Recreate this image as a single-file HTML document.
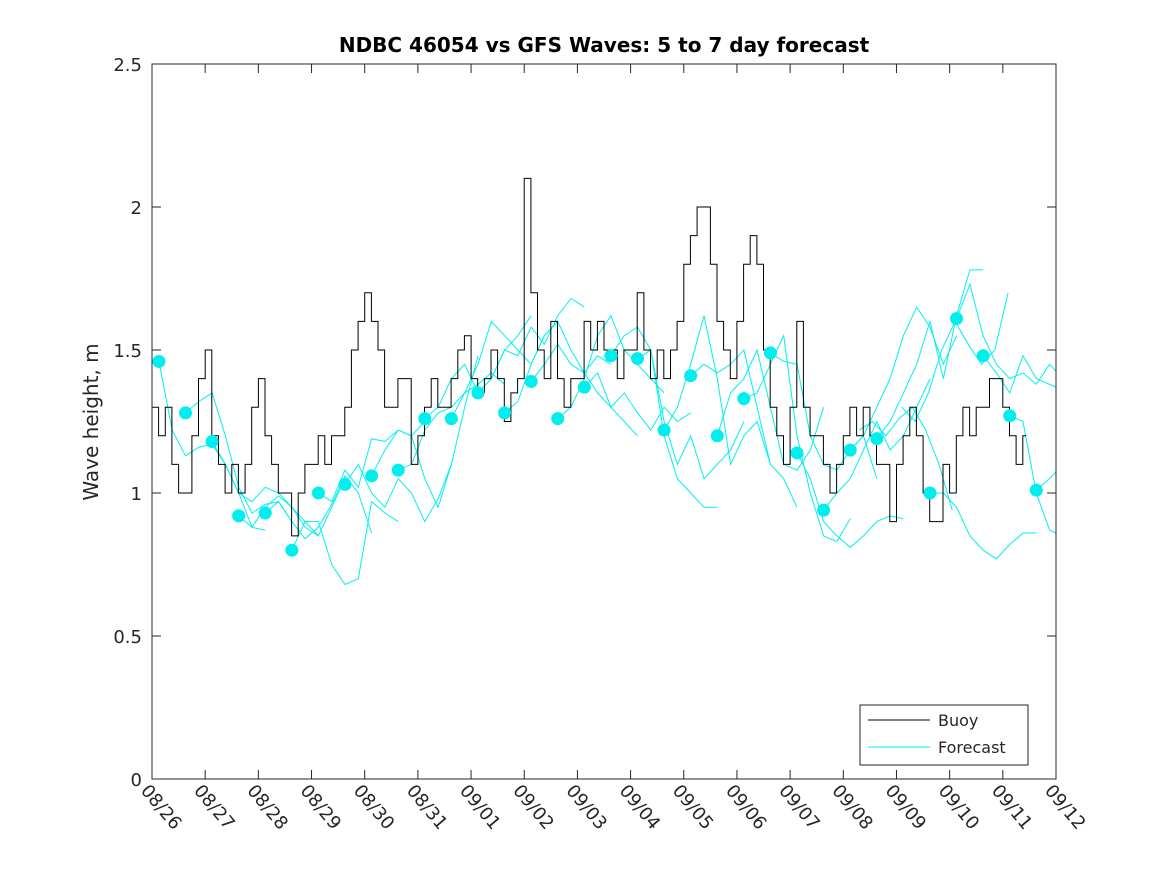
<!DOCTYPE html>
<html><head><meta charset="utf-8"><style>
body{margin:0;background:#fff}
svg{display:block;font-family:"DejaVu Sans","Liberation Sans",sans-serif}
</style></head><body>
<svg id="chart" width="1167" height="875">
<rect width="1167" height="875" fill="#fff"/>
<text x="604" y="52" text-anchor="middle" font-size="20" font-weight="bold" fill="#000">NDBC 46054 vs GFS Waves: 5 to 7 day forecast</text>
<text transform="translate(98,422) rotate(-90)" text-anchor="middle" font-size="20" fill="#262626">Wave height, m</text>
<g id="marks"></g>
<g id="axes"></g>
<g>
<rect x="860" y="705" width="168" height="60" fill="#fff" stroke="#262626" stroke-width="1"/>
<line x1="868" y1="720" x2="930" y2="720" stroke="#000" stroke-width="1"/>
<text x="938" y="726" font-size="16" fill="#262626">Buoy</text>
<line x1="868" y1="747" x2="930" y2="747" stroke="#00eeee" stroke-width="1"/>
<text x="938" y="753" font-size="16" fill="#262626">Forecast</text>
</g>
</svg>
<script>
const xTicks=["08/26","08/27","08/28","08/29","08/30","08/31","09/01","09/02","09/03","09/04","09/05","09/06","09/07","09/08","09/09","09/10","09/11","09/12"];
const yTicks=[0,0.5,1,1.5,2,2.5];
// buoy: 3-hourly values starting 08/26 00:00
const buoyStep=0.125;
const buoy=[1.3,1.2,1.3,1.1,1.0,1.0,1.2,1.4,
1.5,1.2,1.1,1.0,1.1,1.0,1.1,1.3,
1.4,1.2,1.1,1.0,1.0,0.85,1.0,1.1,
1.1,1.2,1.1,1.2,1.2,1.3,1.5,1.6,
1.7,1.6,1.5,1.3,1.3,1.4,1.4,1.1,
1.2,1.3,1.4,1.3,1.3,1.4,1.5,1.55,
1.4,1.35,1.4,1.5,1.4,1.25,1.35,1.4,
2.1,1.7,1.5,1.4,1.6,1.4,1.3,1.4,
1.4,1.6,1.5,1.6,1.5,1.5,1.4,1.5,
1.5,1.7,1.5,1.4,1.5,1.4,1.5,1.6,
1.8,1.9,2.0,2.0,1.8,1.6,1.5,1.4,
1.6,1.8,1.9,1.8,1.5,1.3,1.2,1.1,
1.3,1.6,1.3,1.2,1.2,1.1,1.0,1.1,
1.2,1.3,1.2,1.3,1.2,1.1,1.1,0.9,
1.1,1.2,1.3,1.2,1.0,0.9,0.9,1.1,
1.0,1.2,1.3,1.2,1.3,1.3,1.4,1.4,
1.3,1.2,1.1,1.2];
const dotTimes=[0.13,0.63,1.13,1.63,2.13,2.63,3.13,3.63,4.13,4.63,5.13,5.63,6.13,6.63,7.13,7.63,8.13,8.63,9.13,9.63,10.13,10.63,11.13,11.63,12.13,12.63,13.13,13.63,14.63,15.13,15.63,16.13,16.63];
const dotValues=[1.46,1.28,1.18,0.92,0.93,0.80,1.00,1.03,1.06,1.08,1.26,1.26,1.35,1.28,1.39,1.26,1.37,1.48,1.47,1.22,1.41,1.20,1.33,1.49,1.14,0.94,1.15,1.19,1.00,1.61,1.48,1.27,1.01];
// forecast segments: 6-hourly values starting at each dot time
const fcStep=0.25;
const forecasts=[
[1.46,1.22,1.13,1.16,1.17,1.1,1.0,0.88,0.87],
[1.28,1.32,1.35,1.2,1.02,0.93,0.96,0.97,0.9],
[1.18,1.1,1.0,0.97,1.02,1.0,0.95,0.88,0.85],
[0.92,0.88,0.95,0.99,0.95,0.9,0.85,0.95,1.05],
[0.93,0.97,0.9,0.84,0.88,0.96,1.06,1.0,0.86],
[0.80,0.9,0.9,0.75,0.68,0.7,0.97,0.93,0.9],
[1.00,0.97,1.08,1.02,1.19,1.18,1.22,1.2,1.25],
[1.03,1.1,1.0,0.95,1.05,1.0,0.9,0.98,1.1],
[1.06,1.15,1.22,1.2,1.05,0.95,1.1,1.3,1.48],
[1.08,1.1,1.22,1.28,1.3,1.35,1.38,1.42,1.38],
[1.26,1.3,1.4,1.45,1.35,1.4,1.5,1.55,1.62],
[1.26,1.35,1.45,1.6,1.55,1.5,1.45,1.55,1.6],
[1.35,1.4,1.5,1.48,1.58,1.52,1.62,1.68,1.65],
[1.28,1.32,1.45,1.55,1.6,1.5,1.42,1.48,1.45],
[1.39,1.45,1.52,1.45,1.42,1.35,1.3,1.25,1.2],
[1.26,1.3,1.4,1.55,1.62,1.5,1.45,1.4,1.35],
[1.37,1.42,1.3,1.35,1.28,1.22,1.3,1.25,1.28],
[1.48,1.55,1.58,1.5,1.2,1.05,1.0,0.95,0.95],
[1.47,1.5,1.25,1.1,1.2,1.05,1.1,1.15,1.25],
[1.22,1.3,1.45,1.62,1.4,1.1,1.2,1.25,1.1],
[1.41,1.45,1.42,1.45,1.5,1.3,1.1,1.05,0.95],
[1.20,1.35,1.4,1.5,1.3,1.1,1.08,1.15,1.3],
[1.33,1.35,1.45,1.55,1.2,1.0,0.85,0.83,0.91],
[1.49,1.46,1.45,1.2,1.1,1.08,1.15,1.2,1.05],
[1.14,1.05,0.9,0.85,0.81,0.85,0.9,0.92,0.91],
[0.94,1.0,1.05,1.15,1.25,1.15,1.2,1.3,1.4],
[1.15,1.2,1.3,1.4,1.55,1.65,1.58,1.45,1.55],
[1.19,1.25,1.35,1.45,1.6,1.4,1.62,1.78,1.78],
[1.00,1.0,0.95,0.85,0.8,0.77,0.82,0.86,0.86],
[1.61,1.73,1.55,1.45,1.4,1.42,1.38,1.45,1.4],
[1.48,1.42,1.35,1.48,1.4,1.38,1.36,1.38,1.33],
[1.27,1.25,1.0,0.87,0.85,0.88,0.9,1.1,1.5],
[1.01,1.05,1.1,1.15,1.15]
];
const extraStarts=[13.3,14.1];
const extraForecasts=[
[1.22,1.25,1.2,1.26,1.3,1.22,1.1,0.94],
[1.3,1.25,1.35,1.5,1.6,1.52,1.45,1.5,1.7]
];
const X0=152,X1=1056,Y0=779,Y1=64,XMAX=17,YMAX=2.5;
const sx=t=>X0+(X1-X0)*t/XMAX;
const sy=v=>Y0-(Y0-Y1)*v/YMAX;
const NS="http://www.w3.org/2000/svg";
const marks=document.getElementById('marks');
const axes=document.getElementById('axes');
function mk(tag,attrs,parent){const e=document.createElementNS(NS,tag);for(const k in attrs)e.setAttribute(k,attrs[k]);parent.appendChild(e);return e;}
const clip=mk('clipPath',{id:'pc'},marks);mk('rect',{x:X0,y:Y1,width:X1-X0,height:Y0-Y1},clip);
const g=mk('g',{'clip-path':'url(#pc)'},marks);
function fcLine(t0,vals,name){
  let d='';vals.forEach((v,i)=>{d+=(i?'L':'M')+sx(t0+i*fcStep).toFixed(1)+','+sy(v).toFixed(1);});
  const p=mk('path',{d:d,fill:'none',stroke:'#00f0f0','stroke-width':1},g);
  
  
}
forecasts.forEach((f,i)=>fcLine(dotTimes[i],f,'forecast-line-'+i));
extraForecasts.forEach((f,i)=>fcLine(extraStarts[i],f,'forecast-extra-'+i));
let bd='';buoy.forEach((v,i)=>{const x=sx(i*buoyStep),y=sy(v);bd+=(i?'H'+x.toFixed(1)+'V':'M'+x.toFixed(1)+',')+y.toFixed(1);});
bd+='H'+sx(buoy.length*buoyStep-0.06).toFixed(1);
const bp=mk('path',{d:bd,fill:'none',stroke:'#000','stroke-width':1},g);


dotTimes.forEach((t,i)=>{
  const c=mk('circle',{cx:sx(t),cy:sy(dotValues[i]),r:6.5,fill:'#00eeee'},marks);
  
  
});
const fr=mk('rect',{x:X0,y:Y1,width:X1-X0,height:Y0-Y1,fill:'none',stroke:'#262626','stroke-width':1},axes);


xTicks.forEach((lab,i)=>{
  const x=sx(i);
  mk('line',{x1:x,y1:Y0,x2:x,y2:Y0-9,stroke:'#262626'},axes);
  mk('line',{x1:x,y1:Y1,x2:x,y2:Y1+9,stroke:'#262626'},axes);
  const t=mk('text',{x:0,y:0,transform:`translate(${x-12},${Y0+12}) rotate(50)`,'font-size':18,fill:'#262626'},axes);
  t.textContent=lab;
  
  
});
yTicks.forEach(v=>{
  const y=sy(v);
  mk('line',{x1:X0,y1:y,x2:X0+9,y2:y,stroke:'#262626'},axes);
  mk('line',{x1:X1,y1:y,x2:X1-9,y2:y,stroke:'#262626'},axes);
  const t=mk('text',{x:X0-10,y:y+7,'text-anchor':'end','font-size':18,fill:'#262626'},axes);
  t.textContent=String(v);
  
  
});
</script>
</body></html>
